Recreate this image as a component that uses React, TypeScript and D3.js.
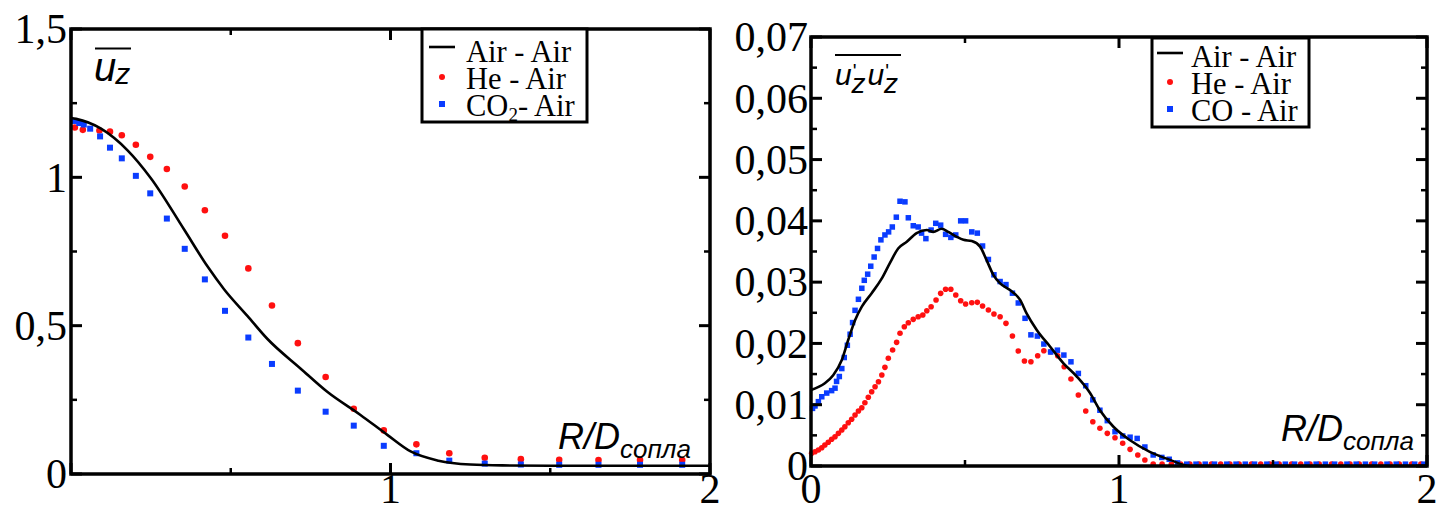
import React from 'react';
import * as d3 from 'd3';

// ---------- Left panel data: mean axial velocity ----------
const leftAirR = [0, 0.016, 0.094, 0.177, 0.25, 0.354, 0.427, 0.479, 0.552, 0.615, 0.719, 0.802, 0.906, 0.99, 1.063, 1.15, 1.25, 1.35, 1.5, 2.0];
const leftAirV = [1.2, 1.197, 1.164, 1.091, 0.997, 0.824, 0.7, 0.623, 0.533, 0.455, 0.355, 0.277, 0.199, 0.132, 0.076, 0.045, 0.032, 0.029, 0.028, 0.028];

const leftHeR = [0.012, 0.037, 0.089, 0.122, 0.159, 0.203, 0.248, 0.3, 0.356, 0.419, 0.482, 0.555, 0.629, 0.71, 0.797, 0.885, 0.979, 1.081, 1.184, 1.295, 1.408, 1.528, 1.651, 1.781, 1.913];
const leftHeV = [1.168, 1.16, 1.158, 1.154, 1.142, 1.11, 1.069, 1.028, 0.969, 0.889, 0.803, 0.693, 0.568, 0.441, 0.327, 0.22, 0.147, 0.1, 0.07, 0.055, 0.05, 0.048, 0.047, 0.047, 0.047];

const leftCO2R = [0.012, 0.026, 0.04, 0.06, 0.091, 0.122, 0.159, 0.203, 0.248, 0.3, 0.356, 0.419, 0.482, 0.555, 0.629, 0.71, 0.797, 0.885, 0.979, 1.081, 1.184, 1.295, 1.408, 1.528, 1.651, 1.781, 1.913];
const leftCO2V = [1.19, 1.183, 1.178, 1.164, 1.138, 1.1, 1.064, 1.005, 0.946, 0.861, 0.759, 0.656, 0.55, 0.46, 0.371, 0.281, 0.21, 0.163, 0.095, 0.07, 0.045, 0.035, 0.032, 0.031, 0.031, 0.031, 0.031];

const leftYMajor = [0, 0.5, 1, 1.5];
const leftYMinor = [0.25, 0.75, 1.25];
const leftYLabels = ['0', '0,5', '1', '1,5'];
const leftXMajor = [0, 1, 2];
const leftXMinor = [0.5, 1.5];
const leftXLabels = ['', '1', '2'];

// ---------- Right panel data: axial velocity fluctuations ----------
const rightAirR = [0, 0.045, 0.072, 0.1, 0.121, 0.143, 0.165, 0.197, 0.23, 0.256, 0.283, 0.311, 0.343, 0.376, 0.397, 0.424, 0.446, 0.473, 0.495, 0.522, 0.549, 0.57, 0.592, 0.614, 0.646, 0.679, 0.7, 0.733, 0.776, 0.819, 0.863, 0.906, 0.938, 0.982, 1.036, 1.1, 1.166, 1.23, 2.0];
const rightAirV = [0.0124, 0.0135, 0.0148, 0.0173, 0.0206, 0.0238, 0.026, 0.0282, 0.0306, 0.0331, 0.0355, 0.0366, 0.038, 0.0385, 0.0382, 0.0387, 0.0382, 0.0374, 0.0369, 0.0367, 0.0358, 0.0336, 0.0312, 0.0298, 0.0287, 0.0271, 0.0249, 0.0222, 0.0195, 0.0168, 0.0146, 0.0119, 0.0091, 0.0064, 0.0042, 0.0023, 0.001, 0.0, 0.0];

const rightHeR = [0.002, 0.013, 0.024, 0.035, 0.045, 0.056, 0.067, 0.078, 0.089, 0.1, 0.11, 0.121, 0.132, 0.143, 0.154, 0.165, 0.175, 0.186, 0.197, 0.208, 0.219, 0.23, 0.24, 0.251, 0.265, 0.278, 0.289, 0.303, 0.316, 0.332, 0.348, 0.363, 0.376, 0.39, 0.406, 0.421, 0.437, 0.454, 0.47, 0.486, 0.502, 0.522, 0.54, 0.557, 0.576, 0.594, 0.614, 0.633, 0.654, 0.673, 0.693, 0.714, 0.736, 0.756, 0.778, 0.801, 0.822, 0.844, 0.868, 0.892, 0.915, 0.938, 0.962, 0.987, 1.012, 1.036, 1.061, 1.084, 1.111, 1.14, 1.17, 1.2, 1.23, 1.26, 1.3, 1.33, 1.36, 1.39, 1.43, 1.46, 1.49, 1.52, 1.56, 1.59, 1.62, 1.65, 1.69, 1.72, 1.75, 1.78, 1.82, 1.85, 1.88, 1.91, 1.95, 1.98];
const rightHeV = [0.00207, 0.00233, 0.00261, 0.00299, 0.00343, 0.00387, 0.00436, 0.00478, 0.00533, 0.00587, 0.00641, 0.00706, 0.00762, 0.00832, 0.00897, 0.00951, 0.01033, 0.01121, 0.01212, 0.01294, 0.01375, 0.01484, 0.0161, 0.01757, 0.01892, 0.02018, 0.02165, 0.02272, 0.02338, 0.02393, 0.02436, 0.02463, 0.02533, 0.02599, 0.02708, 0.02817, 0.02883, 0.02883, 0.0279, 0.02697, 0.02643, 0.02664, 0.0267, 0.0261, 0.02545, 0.0248, 0.02436, 0.02328, 0.02121, 0.01876, 0.01713, 0.01701, 0.01799, 0.01881, 0.01865, 0.01799, 0.0162, 0.01419, 0.01158, 0.00897, 0.00723, 0.00615, 0.00533, 0.00462, 0.0037, 0.00272, 0.00179, 0.00098, 0.00033, 0.0003, 0.0003, 0.0003, 0.0003, 0.0003, 0.0003, 0.0003, 0.0003, 0.0003, 0.0003, 0.0003, 0.0003, 0.0003, 0.0003, 0.0003, 0.0003, 0.0003, 0.0003, 0.0003, 0.0003, 0.0003, 0.0003, 0.0003, 0.0003, 0.0003, 0.0003, 0.0003];

const rightCOR = [0.005, 0.013, 0.024, 0.035, 0.051, 0.067, 0.078, 0.083, 0.092, 0.1, 0.108, 0.118, 0.127, 0.135, 0.143, 0.154, 0.165, 0.173, 0.184, 0.194, 0.205, 0.216, 0.227, 0.24, 0.252, 0.264, 0.277, 0.289, 0.305, 0.316, 0.332, 0.348, 0.359, 0.373, 0.39, 0.405, 0.421, 0.437, 0.454, 0.47, 0.486, 0.502, 0.522, 0.54, 0.557, 0.576, 0.594, 0.614, 0.633, 0.654, 0.673, 0.695, 0.714, 0.735, 0.756, 0.778, 0.8, 0.821, 0.844, 0.868, 0.892, 0.915, 0.938, 0.962, 0.987, 1.012, 1.036, 1.059, 1.084, 1.111, 1.139, 1.163, 1.19, 1.22, 1.25, 1.28, 1.31, 1.35, 1.38, 1.41, 1.44, 1.48, 1.51, 1.54, 1.57, 1.61, 1.64, 1.67, 1.7, 1.74, 1.77, 1.8, 1.83, 1.87, 1.9, 1.93, 1.96, 1.99];
const rightCOV = [0.0094, 0.0098, 0.0105, 0.0113, 0.0119, 0.0123, 0.0127, 0.0138, 0.0146, 0.0159, 0.0177, 0.0197, 0.0215, 0.0234, 0.0254, 0.0272, 0.029, 0.0303, 0.0313, 0.0326, 0.0341, 0.0355, 0.0369, 0.0377, 0.0382, 0.039, 0.0406, 0.0432, 0.0431, 0.0405, 0.0392, 0.039, 0.038, 0.0371, 0.0385, 0.0396, 0.0393, 0.0378, 0.0373, 0.0377, 0.04, 0.04, 0.0382, 0.038, 0.0359, 0.0337, 0.0312, 0.0301, 0.0296, 0.0282, 0.0266, 0.0241, 0.0214, 0.0212, 0.0199, 0.0186, 0.0189, 0.0181, 0.017, 0.0151, 0.0131, 0.0108, 0.0091, 0.0074, 0.0056, 0.0049, 0.0047, 0.0045, 0.0031, 0.0018, 0.0014, 0.0011, 0.0005, 0.0003, 0.0003, 0.0003, 0.0003, 0.0003, 0.0003, 0.0003, 0.0003, 0.0003, 0.0003, 0.0003, 0.0003, 0.0003, 0.0003, 0.0003, 0.0003, 0.0003, 0.0003, 0.0003, 0.0003, 0.0003, 0.0003, 0.0003, 0.0003, 0.0003];

const rightYMajor = [0, 0.01, 0.02, 0.03, 0.04, 0.05, 0.06, 0.07];
const rightYMinor = [0.005, 0.015, 0.025, 0.035, 0.045, 0.055, 0.065];
const rightYLabels = ['0', '0,01', '0,02', '0,03', '0,04', '0,05', '0,06', '0,07'];
const rightXMajor = [0, 1, 2];
const rightXMinor = [0.5, 1.5];
const rightXLabels = ['0', '1', '2'];

const legendNames = ['Air - Air', 'He - Air', 'CO - Air'];

const RED = '#ff1010';
const BLUE = '#0a3cff';
const SERIF = '"Liberation Serif", "Times New Roman", serif';
const SANS = '"Liberation Sans", Arial, sans-serif';

type PanelProps = {
  x0: number; x1: number; y0: number; y1: number;
  yMax: number;
  yMajor: number[]; yMinor: number[]; yLabels: string[];
  xMajor: number[]; xMinor: number[]; xLabels: string[];
  yLabelX: number; xLabelY: number;
  airR: number[]; airV: number[];
  heR: number[]; heV: number[];
  coR: number[]; coV: number[];
  dotR: number; sq: number;
};

function Panel(p: PanelProps) {
  const x = d3.scaleLinear().domain([0, 2]).range([p.x0, p.x1]);
  const y = d3.scaleLinear().domain([0, p.yMax]).range([p.y0, p.y1]);
  const line = d3.line<number>()
    .x((_, i) => x(p.airR[i]))
    .y((v) => y(v))
    .curve(d3.curveMonotoneX);
  const maj = 11, mnr = 6;
  return (
    <g>
      {p.heR.map((r, i) => (
        <circle key={'h' + i} cx={x(r)} cy={y(p.heV[i])} r={p.dotR} fill={RED} />
      ))}
      {p.coR.map((r, i) => (
        <rect key={'c' + i} x={x(r) - p.sq / 2} y={y(p.coV[i]) - p.sq / 2} width={p.sq} height={p.sq} fill={BLUE} />
      ))}
      <path d={line(p.airV) || ''} fill="none" stroke="#000" strokeWidth={2.6} />
      {p.yMajor.map((v, i) => (
        <g key={'ym' + i}>
          <line x1={p.x0} x2={p.x0 + maj} y1={y(v)} y2={y(v)} stroke="#000" strokeWidth={3} />
          <line x1={p.x1} x2={p.x1 - maj} y1={y(v)} y2={y(v)} stroke="#000" strokeWidth={3} />
        </g>
      ))}
      {p.yMinor.map((v, i) => (
        <g key={'yn' + i}>
          <line x1={p.x0} x2={p.x0 + mnr} y1={y(v)} y2={y(v)} stroke="#000" strokeWidth={2.5} />
          <line x1={p.x1} x2={p.x1 - mnr} y1={y(v)} y2={y(v)} stroke="#000" strokeWidth={2.5} />
        </g>
      ))}
      {p.xMajor.map((v, i) => (
        <g key={'xm' + i}>
          <line x1={x(v)} x2={x(v)} y1={p.y0} y2={p.y0 - maj} stroke="#000" strokeWidth={3} />
          <line x1={x(v)} x2={x(v)} y1={p.y1} y2={p.y1 + maj} stroke="#000" strokeWidth={3} />
        </g>
      ))}
      {p.xMinor.map((v, i) => (
        <g key={'xn' + i}>
          <line x1={x(v)} x2={x(v)} y1={p.y0} y2={p.y0 - mnr} stroke="#000" strokeWidth={2.5} />
          <line x1={x(v)} x2={x(v)} y1={p.y1} y2={p.y1 + mnr} stroke="#000" strokeWidth={2.5} />
        </g>
      ))}
      <rect x={p.x0} y={p.y1} width={p.x1 - p.x0} height={p.y0 - p.y1} fill="none" stroke="#000" strokeWidth={3.5} />
      {p.yMajor.map((v, i) => (
        <text key={'yl' + i} x={p.yLabelX} y={y(v)} dy="0.34em" textAnchor="end" fontFamily={SERIF} fontSize={42}>{p.yLabels[i]}</text>
      ))}
      {p.xMajor.map((v, i) => (
        <text key={'xl' + i} x={x(v)} y={p.xLabelY} textAnchor="middle" fontFamily={SERIF} fontSize={42}>{p.xLabels[i]}</text>
      ))}
    </g>
  );
}

type LegendProps = { bx: number; by: number; bw: number; bh: number; lineY: number; rowY: number[]; symX: number; textX: number; sub: boolean };

function Legend({ bx, by, bw, bh, lineY, rowY, symX, textX, sub }: LegendProps) {
  return (
    <g>
      <rect x={bx} y={by} width={bw} height={bh} fill="#fff" stroke="#000" strokeWidth={3} />
      <line x1={symX - 13} x2={symX + 13} y1={lineY} y2={lineY} stroke="#000" strokeWidth={2.6} />
      <circle cx={symX} cy={rowY[1] - 12} r={3} fill={RED} />
      <rect x={symX - 3} y={rowY[2] - 15} width={6} height={6} fill={BLUE} />
      <text x={textX} y={rowY[0]} fontFamily={SERIF} fontSize={30.5}>{legendNames[0]}</text>
      <text x={textX} y={rowY[1]} fontFamily={SERIF} fontSize={30.5}>{legendNames[1]}</text>
      {sub ? (
        <text x={textX} y={rowY[2]} fontFamily={SERIF} fontSize={30.5}>
          CO<tspan fontSize={19} dy={5}>2</tspan><tspan dy={-5}>- Air</tspan>
        </text>
      ) : (
        <text x={textX} y={rowY[2]} fontFamily={SERIF} fontSize={30.5}>{legendNames[2]}</text>
      )}
    </g>
  );
}

export default function App() {
  return (
    <svg width={1441} height={514} style={{ position: 'absolute', left: 0, top: 0, background: '#fff' }}>
      <rect x={0} y={0} width={1441} height={514} fill="#fff" />
      <Panel x0={71} x1={710} y0={474} y1={29} yMax={1.5}
        yMajor={leftYMajor} yMinor={leftYMinor} yLabels={leftYLabels}
        xMajor={leftXMajor} xMinor={leftXMinor} xLabels={leftXLabels}
        yLabelX={67} xLabelY={503}
        airR={leftAirR} airV={leftAirV} heR={leftHeR} heV={leftHeV} coR={leftCO2R} coV={leftCO2V}
        dotR={3.3} sq={6} />
      <Panel x0={811} x1={1427} y0={466} y1={37} yMax={0.07}
        yMajor={rightYMajor} yMinor={rightYMinor} yLabels={rightYLabels}
        xMajor={rightXMajor} xMinor={rightXMinor} xLabels={rightXLabels}
        yLabelX={808} xLabelY={503}
        airR={rightAirR} airV={rightAirV} heR={rightHeR} heV={rightHeV} coR={rightCOR} coV={rightCOV}
        dotR={2.8} sq={5.5} />
      <Legend bx={422} by={29} bw={165} bh={93} lineY={47} rowY={[62, 89, 116]} symX={442} textX={466} sub={true} />
      <Legend bx={1152} by={38} bw={157} bh={89} lineY={53} rowY={[67, 94, 121]} symX={1170} textX={1191} sub={false} />
      <line x1={95} x2={131} y1={48.5} y2={48.5} stroke="#000" strokeWidth={2} />
      <text x={94} y={81} fontFamily={SANS} fontStyle="italic" fontSize={40}>u<tspan fontSize={30} dx={-1} dy={3}>z</tspan></text>
      <line x1={835} x2={901} y1={55} y2={55} stroke="#000" strokeWidth={2} />
      <text x={835} y={85} fontFamily={SANS} fontStyle="italic" fontSize={30}>
        u<tspan fontStyle="normal" fontSize={20} dx={1} dy={-7}>'</tspan><tspan fontSize={28} dx={-5} dy={15}>z</tspan><tspan dx={2} dy={-8}>u</tspan><tspan fontStyle="normal" fontSize={20} dx={1} dy={-7}>'</tspan><tspan fontSize={28} dx={-5} dy={15}>z</tspan>
      </text>
      <text x={558} y={449} fontFamily={SANS} fontStyle="italic" fontSize={36}>R/D<tspan fontSize={26} dy={9}>сопла</tspan></text>
      <text x={1281} y={441} fontFamily={SANS} fontStyle="italic" fontSize={36}>R/D<tspan fontSize={26} dy={9}>сопла</tspan></text>
    </svg>
  );
}
